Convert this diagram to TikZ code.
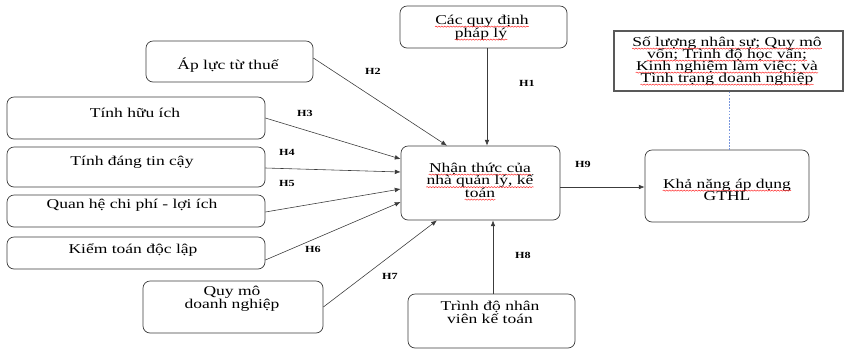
\documentclass[tikz,border=0pt]{standalone}
\usepackage{fontspec}
\setmainfont{Liberation Serif}[FakeStretch=1.3]
\usetikzlibrary{arrows.meta,fit,decorations.pathmorphing}
\definecolor{dotblue}{RGB}{120,150,220}
\definecolor{edgegray}{RGB}{60,60,60}
\begin{document}
\begin{tikzpicture}[x=0.03cm,y=-0.03cm,
 box/.style={draw=edgegray, rounded corners=6pt, line width=0.6pt, inner sep=0pt},
 plainbox/.style={draw=black!65, line width=0.9pt, inner sep=0pt},
 txt/.style={font=\fontsize{11.5}{10.2}\selectfont, inner sep=0.8pt, align=center},
 ln/.style={txt, text height=6.6pt, text depth=1.4pt, inner sep=0pt},
 hl/.style={font=\fontsize{8}{8}\bfseries\selectfont, inner sep=0pt},
 arr/.style={-{Latex[length=5pt,width=4pt]}, line width=0.5pt, draw=edgegray},
 squig/.style={draw=red!85, line width=0.4pt, decorate, decoration={snake,amplitude=0.5pt,segment length=2.5pt}},
 wav/.style={append after command={([yshift=-0.6pt]\tikzlastnode.south west) edge[squig] ([yshift=-0.6pt]\tikzlastnode.south east)}}
]
\useasboundingbox (0,0) rectangle (845,350);
% boxes
\node[box, fit={(400,6)(567,48)}] (cq) {};
\node[box, fit={(146,41)(313,82)}] (ap) {};
\node[box, fit={(7,97)(265,139)}] (hu) {};
\node[box, fit={(7,147)(265,187)}] (dt) {};
\node[box, fit={(7,195)(265,227)}] (qh) {};
\node[box, fit={(7,237)(265,269)}] (kt) {};
\node[box, fit={(143,281)(323,333)}] (qm) {};
\node[box, fit={(401,146)(560,220)}] (nt) {};
\node[box, fit={(645,150)(809,222)}] (kn) {};
\node[box, fit={(408,294)(575,348)}] (td) {};
\node[plainbox, fit={(614,31)(843,91)}] (sl) {};
% texts
\node[ln, wav] (cq1) at (482,21) {Các quy định};
\node[ln, wav] (cq2) at (481,34) {pháp lý};
\node[txt] (apt) at (228,65) {Áp lực từ thuế};
\node[txt] (hut) at (135,113) {Tính hữu ích};
\node[txt] (dtt) at (132,162) {Tính đáng tin cậy};
\node[txt] (qht) at (132,205) {Quan hệ chi phí - lợi ích};
\node[txt] (ktt) at (133,250) {Kiểm toán độc lập};
\node[txt] (qmt) at (232,299) {Quy mô\\doanh nghiệp};
\node[ln, wav] (nt1) at (480,169) {Nhận thức của};
\node[ln, wav] (nt2) at (480,181.5) {nhà quản lý, kế};
\node[ln, wav] (nt3) at (480,194) {toán};
\node[ln, wav] (kn1) at (727,185) {Khả năng áp dụng};
\node[ln] (kn2) at (727,197) {GTHL};
\node[txt] (tdt) at (490,312) {Trình độ nhân\\viên kế toán};
\node[ln, wav] (sl1) at (727,43) {Số lượng nhân sự; Quy mô};
\node[ln, wav] (sl2) at (727,55) {vốn; Trình độ học vấn;};
\node[ln, wav] (sl3) at (727,67) {Kinh nghiệm làm việc; và};
\node[ln, wav] (sl4) at (727,79) {Tình trạng doanh nghiệp};
% connectors
\draw[arr] (cq.south -| 487,0) -- (nt.north -| 487,0);
\draw[arr] (ap.east |- 0,58) -- (nt.north -| 447,0);
\draw[arr] (hu.east) -- (nt.west |- 0,159);
\draw[arr] (dt.east |- 0,168) -- (nt.west |- 0,172);
\draw[arr] (qh.east |- 0,212) -- (nt.west |- 0,189);
\draw[arr] (kt.east |- 0,260) -- (nt.west |- 0,202);
\draw[arr] (qm.east |- 0,307) -- (nt.south -| 437,0);
\draw[arr] (td.north -| 493,0) -- (nt.south -| 493,0);
\draw[arr] (nt.east |- 0,187) -- (kn.west |- 0,187);
\draw[dotblue, line width=0.7pt, dash pattern=on 1.5pt off 1.2pt] (sl.south -| 729,0) -- (kn.north -| 729,0);
% labels
\node[hl] (h1) at (527,83) {H1};
\node[hl] (h2) at (373,71) {H2};
\node[hl] (h3) at (305,113) {H3};
\node[hl] (h4) at (287,152) {H4};
\node[hl] (h5) at (287,183) {H5};
\node[hl] (h6) at (313,249) {H6};
\node[hl] (h7) at (390,276) {H7};
\node[hl] (h8) at (523,255) {H8};
\node[hl] (h9) at (583,164) {H9};
\end{tikzpicture}
\end{document}
